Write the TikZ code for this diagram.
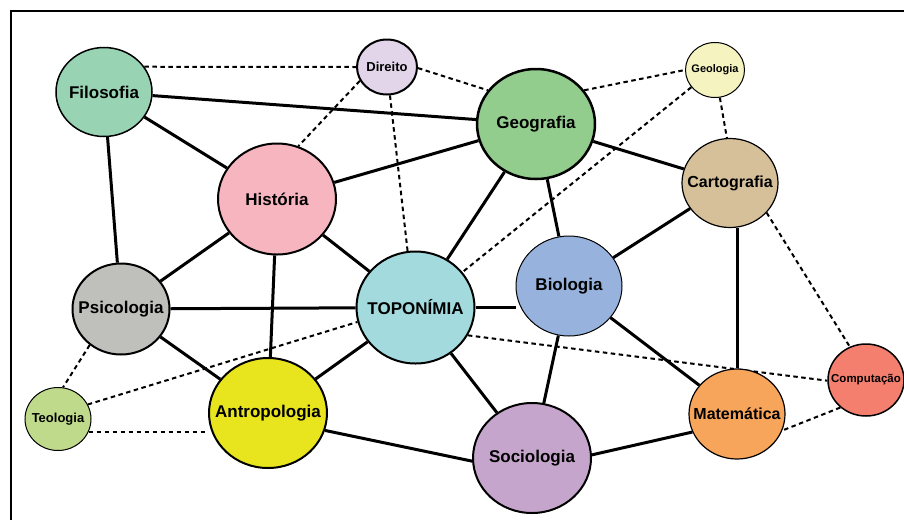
\documentclass[tikz,border=0pt]{standalone}
\usepackage{fontspec}
\setmainfont{Liberation Sans}
\usetikzlibrary{shapes.geometric,backgrounds}
\definecolor{cfil}{HTML}{98D4B4}
\definecolor{cdir}{HTML}{E2D5E9}
\definecolor{chis}{HTML}{F7B5BF}
\definecolor{cgeo}{HTML}{93CD8D}
\definecolor{cgeol}{HTML}{F5F4C0}
\definecolor{ccar}{HTML}{D6C09A}
\definecolor{cpsi}{HTML}{BFC0BC}
\definecolor{cteo}{HTML}{BFDA8A}
\definecolor{cant}{HTML}{E8E41E}
\definecolor{ctop}{HTML}{A2DADD}
\definecolor{cbio}{HTML}{97B3DD}
\definecolor{csoc}{HTML}{C6A5CC}
\definecolor{cmat}{HTML}{F8A55C}
\definecolor{ccomp}{HTML}{F47F6E}
\newcommand{\dlabel}[1]{\makebox[0pt]{#1}}
\tikzset{
  disc/.style={ellipse, draw=black, inner sep=0pt, font=\bfseries\fontsize{17}{20}\selectfont},
  solidlink/.style={line width=3pt},
  dashlink/.style={line width=2pt, dash pattern=on 4.5pt off 3.5pt},
  frameline/.style={line width=2pt}
}
\begin{document}
\begin{tikzpicture}[x=1pt,y=-1pt]
\useasboundingbox (0,0) rectangle (904,520);
\coordinate (ftl) at (10.5,11);
\coordinate (ftr) at (904,11);
\coordinate (fbl) at (10.5,520);
\draw[frameline] (ftr) -- (ftl) -- (fbl);

\node[disc, fill=cfil, line width=1.5pt, minimum width=96pt, minimum height=89pt] (fil) at (104,92) {\dlabel{Filosofia}};
\node[disc, fill=cdir, line width=2pt, minimum width=60pt, minimum height=55pt, font=\bfseries\fontsize{13}{15}\selectfont] (dir) at (387,67) {\dlabel{Direito}};
\node[disc, fill=chis, line width=2pt, minimum width=118pt, minimum height=111pt] (his) at (277,199) {\dlabel{História}};
\node[disc, fill=cgeo, line width=2.5pt, minimum width=118pt, minimum height=110pt] (geo) at (536,124) {\dlabel{Geografia}};
\node[disc, fill=cgeol, line width=1pt, minimum width=59pt, minimum height=55pt, font=\bfseries\fontsize{11}{13}\selectfont] (geol) at (715,70) {\dlabel{Geologia}};
\node[disc, fill=ccar, line width=1.2pt, minimum width=96pt, minimum height=89pt, font=\bfseries\fontsize{16}{19}\selectfont] (car) at (730,183) {\dlabel{Cartografia}};
\node[disc, fill=cpsi, line width=2pt, minimum width=97pt, minimum height=91pt] (psi) at (121,309) {\dlabel{Psicologia}};
\node[disc, fill=cteo, line width=1pt, minimum width=66pt, minimum height=63pt, font=\bfseries\fontsize{13}{15}\selectfont] (teo) at (58,419) {\dlabel{Teologia}};
\node[disc, fill=cant, line width=2pt, minimum width=118pt, minimum height=110pt] (ant) at (268,413) {\dlabel{Antropologia}};
\node[disc, fill=ctop, line width=2pt, minimum width=118pt, minimum height=112pt] (top) at (415.5,307.5) {\dlabel{TOPONÍMIA}};
\node[disc, fill=cbio, line width=1pt, minimum width=106pt, minimum height=100pt] (bio) at (569,286) {\dlabel{Biologia}};
\node[disc, fill=csoc, line width=2pt, minimum width=118pt, minimum height=110pt] (soc) at (532,458) {\dlabel{Sociologia}};
\node[disc, fill=cmat, line width=1.2pt, minimum width=96pt, minimum height=90pt, font=\bfseries\fontsize{16}{19}\selectfont] (mat) at (737,414) {\dlabel{Matemática}};
\node[disc, fill=ccomp, line width=1.5pt, minimum width=76pt, minimum height=72pt, font=\bfseries\fontsize{11.5}{13}\selectfont] (comp) at (866,380) {\dlabel{Computação}};

\begin{scope}[on background layer]
  % solid links
  \draw[solidlink] (fil) -- (geo);
  \draw[solidlink] (fil) -- (his);
  \draw[solidlink] (fil) -- (psi);
  \draw[solidlink] (his) -- (geo);
  \draw[solidlink] (his) -- (psi);
  \draw[solidlink] (his) -- (top);
  \draw[solidlink] (his) -- (ant);
  \draw[solidlink] (psi) -- (top);
  \draw[solidlink] (psi) -- (ant);
  \draw[solidlink] (ant) -- (top);
  \draw[solidlink] (ant.-17) -- (soc.183);
  \draw[solidlink] (top) -- (geo);
  \draw[solidlink] (top.east) -- (top.east -| bio.west);
  \draw[solidlink] (top) -- (soc);
  \draw[solidlink] (geo) -- (bio);
  \draw[solidlink] (geo) -- (car);
  \draw[solidlink] (car) -- (bio);
  \draw[solidlink] (mat.north) -- (mat.north |- car.south);
  \draw[solidlink] (bio) -- (soc);
  \draw[solidlink] (bio) -- (mat);
  \draw[solidlink] (soc.3) -- (mat.202);
  % dashed links
  \draw[dashlink] (fil.32) -- (dir.west);
  \draw[dashlink] (dir.-2) -- (geo.145);
  \draw[dashlink] (dir.207) -- (his.68);
  \draw[dashlink] (dir.276) -- (top.98);
  \draw[dashlink] (geo.35) -- (geol.west);
  \draw[dashlink] (geol.216) -- (top.37);
  \draw[dashlink] (geol.-80) -- (car.94);
  \draw[dashlink] (car.-39) -- (comp.116);
  \draw[dashlink] (top.-28) -- (comp.181);
  \draw[dashlink] (comp.227) -- (mat.-20);
  \draw[dashlink] (psi.229) -- (teo.81);
  \draw[dashlink] (teo.26) -- (top.194);
  \draw[dashlink] (teo.-23) -- (teo.-23 -| ant.west);
\end{scope}
\end{tikzpicture}
\end{document}
